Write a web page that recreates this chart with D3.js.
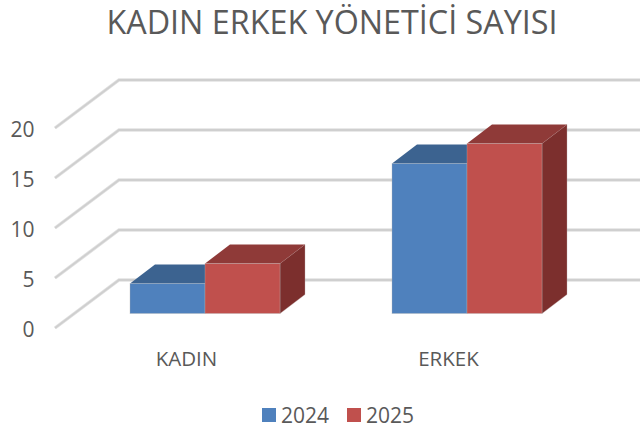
<!DOCTYPE html>
<html><head><meta charset="utf-8">
<script src="https://cdn.jsdelivr.net/npm/d3@7"></script>
<style>html,body{margin:0;padding:0;background:#fff}svg{display:block}text{font-family:"Open Sans",sans-serif;fill:#595959}</style>
</head><body><svg id="c" width="640" height="428"></svg>
<script>
const title = "KADIN ERKEK YÖNETİCİ SAYISI";
const categories = ["KADIN", "ERKEK"];
const seriesNames = ["2024", "2025"];
const values2024 = [3, 15];
const values2025 = [5, 17];
const yTicks = [0, 5, 10, 15, 20];
const seriesColors = {"2024": {front:"#4f81bd", top:"#3c6390", side:"#335578"}, "2025": {front:"#c0504d", top:"#8f3a38", side:"#7c2f2d"}};

const svg = d3.select("#c");
const y = d3.scaleLinear().domain([0, 20]).range([313.5, 113.5]);
const x0 = d3.scaleOrdinal().domain(categories).range([130, 392]);
const xLabel = d3.scaleOrdinal().domain(categories).range([186.5, 448.5]);
const barW = 75, dx = 25, dy = 19;
const depthX = 64, depthY = 48;
const wallOffset = 14.5;

const grid = svg.append("g");
yTicks.forEach(t => {
  const yf = y(t) + wallOffset;
  const pts = [[55, yf], [55 + depthX, yf - depthY], [640, yf - depthY]];
  grid.append("path").attr("d", d3.line()(pts)).attr("fill", "none")
    .attr("stroke", "#e2e2e2").attr("stroke-width", 3.4);
  grid.append("path").attr("d", d3.line()(pts)).attr("fill", "none")
    .attr("stroke", "#cfcfcf").attr("stroke-width", 1.8);
  svg.append("text").attr("x", 34.5).attr("y", yf + 1).attr("dy", "0.36em")
    .attr("text-anchor", "end").attr("font-size", 21).text(t);
});

const poly = pts => d3.line().curve(d3.curveLinearClosed)(pts);
function bar(cat, v, idx, name) {
  const c = seriesColors[name];
  const l = x0(cat) + idx * barW, r = l + barW, t = y(v), b = y(0);
  const g = svg.append("g");
  if (idx === 1) g.append("path").attr("d", poly([[r, t], [r + dx, t - dy], [r + dx, b - dy], [r, b]])).attr("fill", c.side).attr("stroke", "#b9a5a5").attr("stroke-opacity", 0.35);
  g.append("path").attr("d", poly([[l, t], [l + dx, t - dy], [r + dx, t - dy], [r, t]])).attr("fill", c.top);
  g.append("rect").attr("x", l).attr("y", t).attr("width", barW).attr("height", b - t).attr("fill", c.front).attr("stroke", "#b5b5b5").attr("stroke-opacity", 0.35);
}
categories.forEach((cat, i) => {
  bar(cat, values2024[i], 0, "2024");
  bar(cat, values2025[i], 1, "2025");
  svg.append("text").attr("x", xLabel(cat)).attr("y", 365.5)
    .attr("text-anchor", "middle").attr("font-size", 20.5).text(cat);
});

svg.append("text").attr("x", 332).attr("y", 33.5).attr("text-anchor", "middle")
  .attr("font-size", 32.3).text(title);

const lx = d3.scaleOrdinal().domain(seriesNames).range([262, 347]);
seriesNames.forEach(n => {
  svg.append("rect").attr("x", lx(n)).attr("y", 408).attr("width", 14).attr("height", 14).attr("fill", seriesColors[n].front);
  svg.append("text").attr("x", lx(n) + 19).attr("y", 415).attr("dy", "0.36em").attr("font-size", 21).text(n);
});
</script></body></html>
